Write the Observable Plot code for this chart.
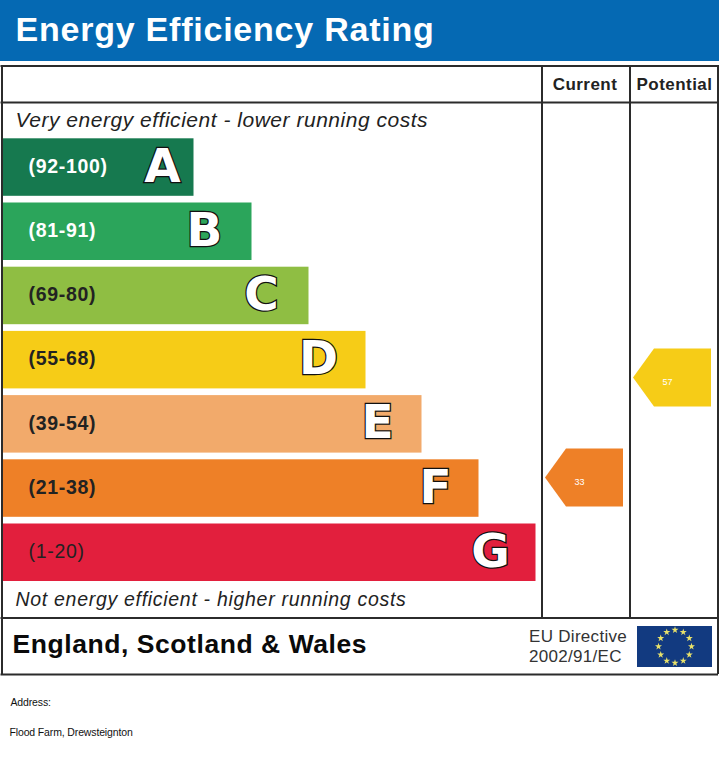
<!DOCTYPE html>
<html>
<head>
<meta charset="utf-8">
<script src="https://cdn.jsdelivr.net/npm/d3@7"></script>
<script src="https://cdn.jsdelivr.net/npm/@observablehq/plot@0.6"></script>
<style>
html,body{margin:0;padding:0;background:#fff;overflow:hidden}
svg{display:block}
.title text{letter-spacing:.77px}
.band text{letter-spacing:.7px}
.head text{letter-spacing:.45px}
.note1 text{letter-spacing:.52px}
.note2 text{letter-spacing:.7px}
.nation text{letter-spacing:.56px}
.eu text{letter-spacing:.3px}
.addr text{letter-spacing:-.14px}
.letter text{paint-order:stroke;stroke-linejoin:miter}
</style>
</head>
<body>
<div id="chart"></div>
<script>
const letters = ["A","B","C","D","E","F","G"];
const ranges = ["(92-100)","(81-91)","(69-80)","(55-68)","(39-54)","(21-38)","(1-20)"];
const barEnds = [193.5,251.5,308.5,365.5,421.5,478.5,535.5];
const letterCentres = [162,204,261,318,377,435,490];
const barColors = ["#16794F","#2BA55B","#8FBE43","#F6CC17","#F2AA6B","#EE8027","#E21F3D"];
const rangeColors = ["#fff","#fff","#222","#222","#222","#222","#222"];
const rangeWeights = ["bold","bold","bold","bold","bold","bold","normal"];
const columns = ["Current","Potential"];
const scores = [33,57];
const scoreColors = ["#EE8027","#F6CC17"];
const scoreTops = [448,348];
const scoreTips = [544.5,632.5];
const columnCentres = [584.5,674];

const rowTop = i => 138.3 + i * 64.2;
const rowH = 57.5;
const bars = letters.map((l,i)=>({letter:l,range:ranges[i],x2:barEnds[i],cx:letterCentres[i],fill:barColors[i],rc:rangeColors[i],rw:rangeWeights[i],y1:rowTop(i),y2:rowTop(i)+rowH,ym:rowTop(i)+rowH/2}));
const arrows = scores.flatMap((s,i)=>{
  const t=scoreTips[i], y=scoreTops[i];
  return [[t,y+29],[t+21,y],[t+78,y],[t+78,y+58],[t+21,y+58]].map(([px,py])=>({id:s,px,py,fill:scoreColors[i]}));
});
const scoreLabels = scores.map((s,i)=>({s,x:scoreTips[i]+34.5,y:scoreTops[i]+34}));
const stars = d3.range(12).map(h=>({x:674.5+16.5*Math.sin(h*Math.PI/6),y:646-16.5*Math.cos(h*Math.PI/6)}));
const frame = "#2b2b2b";
const sans = "Liberation Sans";
const T = (text,x,y,o={}) => Plot.text([text],{x:()=>x,y:()=>y,text:d=>d,textAnchor:"start",lineAnchor:"middle",fontFamily:sans,fill:"#222",...o});

const plot = Plot.plot({
  width:719,height:761,margin:0,
  style:{background:"#fff",fontFamily:sans},
  x:{domain:[0,719],range:[0,719],axis:null},
  y:{domain:[0,761],range:[0,761],axis:null},
  marks:[
    Plot.rect([0],{x1:0,x2:719,y1:0,y2:61,fill:"#0569B3"}),
    T("Energy Efficiency Rating",15,30,{fill:"#fff",fontWeight:"bold",fontSize:34,className:"title"}),
    Plot.rect(bars,{x1:1.5,x2:"x2",y1:"y1",y2:"y2",fill:"fill"}),
    Plot.text(bars.filter(d=>d.rw==="bold"),{x:()=>28,y:d=>d.ym-1,text:"range",fill:"rc",textAnchor:"start",fontFamily:sans,fontWeight:"bold",fontSize:19.5,className:"band"}),
    Plot.text(bars.filter(d=>d.rw!=="bold"),{x:()=>28,y:d=>d.ym-1,text:"range",fill:"rc",textAnchor:"start",fontFamily:sans,fontWeight:"normal",fontSize:19.5,className:"band"}),
    Plot.text(bars,{x:"cx",y:d=>d.ym-1,text:"letter",fill:"#fff",stroke:"#111",strokeWidth:2.5,fontFamily:"DejaVu Sans",fontWeight:"bold",fontSize:47,className:"letter"}),
    Plot.ruleY([65.5,102,617.5,674],{x1:0.5,x2:718,stroke:frame,strokeWidth:2}),
    Plot.ruleX([1.5,717.5],{y1:65,y2:674,stroke:frame,strokeWidth:2}),
    Plot.ruleX([541.5,629.5],{y1:65,y2:617,stroke:frame,strokeWidth:2}),
    Plot.text(columns,{x:(d,i)=>columnCentres[i],y:()=>84,text:d=>d,fontFamily:sans,fontWeight:"bold",fontSize:17,fill:"#222",className:"head"}),
    T("Very energy efficient - lower running costs",15,120,{fontStyle:"italic",fontSize:21,className:"note1"}),
    T("Not energy efficient - higher running costs",15,599,{fontStyle:"italic",fontSize:19.5,className:"note2"}),
    Plot.line(arrows,{x:"px",y:"py",z:"id",fill:"fill",stroke:"none"}),
    Plot.text(scoreLabels,{x:"x",y:"y",text:"s",fill:"#fff",fontFamily:sans,fontSize:9}),
    T("England, Scotland & Wales",12,644,{fill:"#0a0a0a",fontWeight:"bold",fontSize:26.5,className:"nation"}),
    T("EU Directive",528.5,636,{fontSize:17,fill:"#333",className:"eu"}),
    T("2002/91/EC",528.5,656,{fontSize:17,fill:"#333",className:"eu"}),
    Plot.rect([0],{x1:637,x2:712,y1:626,y2:667,fill:"#123A80"}),
    Plot.dot(stars,{x:"x",y:"y",symbol:"star",r:2.2,fill:"#E9E26A"}),
    T("Address:",10,702,{fontSize:10.5,fill:"#111",className:"addr"}),
    T("Flood Farm, Drewsteignton",9,732,{fontSize:10.5,fill:"#111",className:"addr"})
  ]
});
document.getElementById("chart").append(plot);
</script>
</body>
</html>
